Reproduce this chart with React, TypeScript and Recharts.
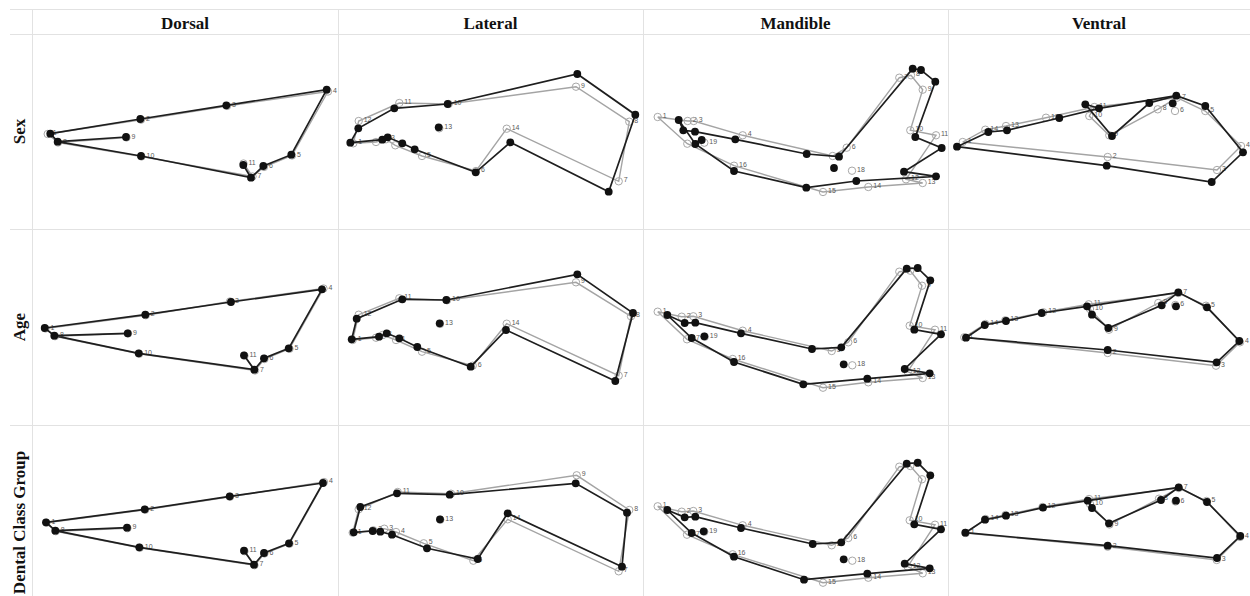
import React from 'react';
import { ScatterChart, Scatter, XAxis, YAxis } from 'recharts';

// [landmark id, x, y] in each panel's own coordinate frame (y grows downward)
type Landmark = [number, number, number];

const columnTitles = ['Dorsal', 'Lateral', 'Mandible', 'Ventral'];
const rowTitles = ['Sex', 'Age', 'Dental Class Group'];

// wireframe links, listed as landmark chains
const dorsalLinks = [[9, 8, 1, 2, 3, 4, 5, 6, 7, 10, 8], [7, 11]];
const lateralLinks = [[1, 2, 3, 4, 5, 6, 14, 7, 8, 9, 10, 11, 12, 1]];
const mandibleLinks = [[1, 2, 3, 4, 5, 6, 7, 8, 9, 10, 11, 12, 13, 14, 15, 16, 17, 1]];
const ventralLinks = [[1, 14, 13, 12, 11, 7, 5, 4, 3, 2, 1], [11, 10, 9, 8, 7]];

// ---- Dorsal ----
const dorsalSexA: Landmark[] = [
  [1, 17.3, 98.7], [2, 107.3, 84], [3, 193.3, 70.3], [4, 293.7, 54.7], [5, 258.3, 119.7], [6, 230.3, 131],
  [7, 218, 142.7], [8, 24.7, 106.7], [9, 93, 102], [10, 108, 121], [11, 210.3, 130],
];
const dorsalSexB: Landmark[] = [
  [1, 14.7, 99], [2, 108, 84.7], [3, 194, 71], [4, 295, 56.5], [5, 259, 120.5], [6, 231, 132],
  [7, 219.5, 141.5], [8, 25, 107.5], [9, 93.5, 102.5], [10, 108.5, 121.5], [11, 210.5, 128.5],
];
const dorsalAgeA: Landmark[] = [
  [1, 11.7, 98], [2, 112.3, 84.7], [3, 198, 72], [4, 289, 59.3], [5, 255.7, 118.3], [6, 231, 128.3],
  [7, 221.3, 139.7], [8, 21.3, 105.7], [9, 94.7, 103.3], [10, 105.7, 123.3], [11, 211, 125.3],
];
const dorsalAgeB: Landmark[] = [
  [1, 12.5, 98.5], [2, 112.8, 85.2], [3, 197, 71.5], [4, 290.5, 58.5], [5, 256.5, 118.8], [6, 231.5, 129],
  [7, 222, 140.5], [8, 22, 106.2], [9, 95, 103.5], [10, 106.2, 123.8], [11, 211.5, 125.8],
];
const dorsalDentalA: Landmark[] = [
  [1, 13, 96.3], [2, 111.7, 83.3], [3, 196.7, 70.3], [4, 290, 57], [5, 256, 117.3], [6, 231, 127],
  [7, 221, 138.7], [8, 22.3, 104.7], [9, 94, 101.7], [10, 106.3, 121.3], [11, 211, 124.7],
];
const dorsalDentalB: Landmark[] = [
  [1, 13.5, 96.8], [2, 112.2, 83.8], [3, 197, 70.8], [4, 291, 56], [5, 256.5, 117.8], [6, 231.5, 127.5],
  [7, 221.5, 139.2], [8, 22.8, 105.2], [9, 94.5, 102.2], [10, 106.8, 121.8], [11, 211.5, 125.2],
];

// ---- Lateral ----
const lateralSexA: Landmark[] = [
  [1, 11.3, 107.7], [2, 43.3, 104.7], [3, 48.7, 102.3], [4, 63.3, 108.3], [5, 75.7, 114.3], [6, 136.7, 137.3],
  [7, 269.7, 156.7], [8, 296.3, 79.7], [9, 238.3, 39], [10, 108.7, 69], [11, 55.3, 73.3], [12, 19.3, 93.3],
  [13, 99.7, 92.3], [14, 171.3, 107.3],
];
const lateralSexB: Landmark[] = [
  [1, 14.3, 108.3], [2, 37, 107], [3, 47, 104.3], [4, 56.3, 110.3], [5, 83, 121], [6, 137, 136],
  [7, 279.7, 146.3], [8, 290.3, 86.7], [9, 237, 51.7], [10, 109.7, 69], [11, 60.3, 68], [12, 19.7, 86],
  [13, 100.3, 93.3], [14, 167.7, 93.7],
];
const lateralAgeA: Landmark[] = [
  [1, 12.7, 109.3], [2, 40, 106.7], [3, 47.7, 103.3], [4, 60.3, 108.3], [5, 78.3, 117], [6, 131.7, 136.7],
  [7, 276.3, 151], [8, 294, 83], [9, 238.3, 44.3], [10, 107.3, 70], [11, 63.3, 69.3], [12, 17.7, 88.7],
  [13, 100.7, 93.3], [14, 167, 100],
];
const lateralAgeB: Landmark[] = [
  [1, 13.7, 110], [2, 37, 107.7], [3, 43.7, 105], [4, 57, 110], [5, 83, 121.7], [6, 133.7, 135.7],
  [7, 279.7, 145.7], [8, 292, 86.3], [9, 237, 52.3], [10, 108, 70.3], [11, 60.3, 68.3], [12, 19.7, 84.7],
  [13, 101, 94], [14, 167.7, 93.7],
];
const lateralDentalA: Landmark[] = [
  [1, 14.7, 106.3], [2, 33.7, 105], [3, 41.3, 105.7], [4, 53, 108.7], [5, 88, 122.3], [6, 138.7, 133],
  [7, 283, 140.7], [8, 288, 86.7], [9, 236.7, 57.3], [10, 110.7, 68.7], [11, 58, 67.3], [12, 21.3, 81],
  [13, 101, 93.3], [14, 168.7, 87.3],
];
const lateralDentalB: Landmark[] = [
  [1, 13.7, 106.7], [2, 34.3, 104.3], [3, 45.3, 102.7], [4, 57, 106], [5, 84.7, 117.3], [6, 134.3, 134.7],
  [7, 279.7, 145.3], [8, 290.3, 84], [9, 237.7, 49.3], [10, 112, 67.7], [11, 58.7, 66], [12, 19.7, 83.3],
  [13, 101.3, 93.8], [14, 168.7, 93.3],
];

// ---- Mandible ----
const mandibleSexA: Landmark[] = [
  [1, 34.7, 85], [2, 39.3, 95.3], [3, 51, 96.7], [4, 91.3, 104.3], [5, 162.7, 119], [6, 195, 121.7],
  [7, 268.7, 33.7], [8, 277, 35], [9, 291.3, 46.7], [10, 271.3, 102], [11, 297.7, 113], [12, 260, 136.7],
  [13, 292, 141.3], [14, 212.3, 146], [15, 162.3, 152.7], [16, 90, 136], [17, 51.3, 109], [18, 190, 133],
  [19, 57.7, 105],
];
const mandibleSexB: Landmark[] = [
  [1, 13.7, 82], [2, 43.7, 86], [3, 49.7, 86], [4, 98.7, 100.3], [5, 188.7, 121], [6, 202.7, 112.7],
  [7, 255.3, 42.7], [8, 267, 40.3], [9, 278.7, 54.7], [10, 266.3, 95.3], [11, 292, 100.3], [12, 262, 144.3],
  [13, 278.7, 148], [14, 224.3, 152], [15, 179, 157], [16, 90, 130.7], [17, 43.3, 108.7], [18, 208, 135.7],
  [19, 60.3, 107.7],
];
const mandibleAgeA: Landmark[] = [
  [1, 23.3, 85], [2, 40.7, 93], [3, 51.3, 92.7], [4, 97, 103.3], [5, 168, 119], [6, 197.3, 117.3],
  [7, 262.7, 38.7], [8, 273.7, 38], [9, 286.3, 50.3], [10, 270.3, 99.7], [11, 297, 104.3], [12, 260.7, 139],
  [13, 285.7, 143.3], [14, 223.3, 148.7], [15, 159.3, 154.3], [16, 90, 132], [17, 47.7, 108], [18, 199.7, 134.3],
  [19, 60.3, 106.3],
];
const mandibleAgeB: Landmark[] = [
  [1, 13.7, 81.7], [2, 37.7, 86.7], [3, 49.3, 86.3], [4, 98.7, 100.7], [5, 187.7, 121], [6, 204.3, 112.3],
  [7, 255.3, 41.7], [8, 266.3, 40.7], [9, 278, 55.7], [10, 265.7, 95.7], [11, 291, 99.7], [12, 263.7, 141.7],
  [13, 278.7, 148], [14, 224.3, 152.3], [15, 179, 157.7], [16, 88.7, 129], [17, 43, 109.3], [18, 208.3, 135.3],
  [19, 60.8, 106.8],
];
const mandibleDentalA: Landmark[] = [
  [1, 23.3, 84], [2, 40.7, 91.3], [3, 51.3, 90.7], [4, 97, 102], [5, 168.7, 118], [6, 197.3, 116.3],
  [7, 262.7, 37.7], [8, 273.7, 36.7], [9, 286.3, 49.3], [10, 270.3, 98.3], [11, 297, 103.3], [12, 260.7, 137.7],
  [13, 285.7, 142.3], [14, 223.3, 147.7], [15, 160, 153.7], [16, 90, 130.7], [17, 47.7, 107], [18, 199.7, 133.3],
  [19, 59.7, 105.3],
];
const mandibleDentalB: Landmark[] = [
  [1, 13.7, 80.3], [2, 37.7, 85.7], [3, 49.3, 85], [4, 98.7, 99.3], [5, 187.7, 119.3], [6, 204.3, 112],
  [7, 255.3, 40.7], [8, 266.3, 40], [9, 278, 53.3], [10, 265.7, 94.3], [11, 291, 98.7], [12, 263.7, 140.7],
  [13, 278.7, 147.3], [14, 224.3, 151.7], [15, 179, 156.7], [16, 88.7, 128.3], [17, 43, 108.7], [18, 208.3, 134.7],
  [19, 60.3, 105.8],
];

// ---- Ventral ----
const ventralSexA: Landmark[] = [
  [1, 8, 111.7], [2, 157.7, 130.7], [3, 262.7, 147], [4, 294, 117.3], [5, 256.3, 71], [6, 223.7, 68.3],
  [7, 227.3, 60.7], [8, 200.3, 68], [9, 163, 101], [10, 136.3, 69.3], [11, 150, 73.3], [12, 110.3, 83],
  [13, 58, 95.3], [14, 39.3, 97],
];
const ventralSexB: Landmark[] = [
  [1, 13.7, 107], [2, 158.7, 122], [3, 268, 135], [4, 292, 111], [5, 256.3, 76], [6, 226, 76],
  [7, 228, 62.7], [8, 208.7, 74.3], [9, 160.3, 100.3], [10, 140.3, 81], [11, 145.3, 72], [12, 97, 82.7],
  [13, 57, 91], [14, 36.3, 94.7],
];
const ventralAgeA: Landmark[] = [
  [1, 17, 107.7], [2, 158.7, 120], [3, 267.7, 132.3], [4, 290.3, 111], [5, 258, 77.3], [6, 227, 76.3],
  [7, 229.3, 62.3], [8, 212.7, 75.3], [9, 159.3, 98], [10, 143, 84.7], [11, 138, 76.3], [12, 92.7, 83],
  [13, 57, 91], [14, 35.7, 95],
];
const ventralAgeB: Landmark[] = [
  [1, 15.3, 107.3], [2, 158.7, 123], [3, 267, 135.7], [4, 291, 112.3], [5, 257, 75.7], [6, 226.3, 75],
  [7, 229.3, 63], [8, 209.3, 73], [9, 160, 99.7], [10, 141, 79], [11, 139.7, 74.3], [12, 94.3, 82.3],
  [13, 56.3, 90.3], [14, 36.3, 94],
];
const ventralDentalA: Landmark[] = [
  [1, 16.3, 106.7], [2, 158.7, 119.7], [3, 268, 132], [4, 291.3, 110], [5, 258, 76], [6, 227, 74.7],
  [7, 229.7, 61.3], [8, 212, 74], [9, 160, 97.3], [10, 143, 82], [11, 138.7, 74.7], [12, 94, 81.7],
  [13, 57, 89.7], [14, 36, 93.7],
];
const ventralDentalB: Landmark[] = [
  [1, 16.8, 107], [2, 158.7, 120.7], [3, 267.7, 134], [4, 291, 111], [5, 257.5, 75], [6, 226.5, 75.5],
  [7, 229.7, 62], [8, 210, 72.7], [9, 160.5, 98.5], [10, 141, 78], [11, 140, 73], [12, 93.5, 81],
  [13, 56.5, 89], [14, 36.5, 93],
];

// rows (grouping factor) x columns (view)
const panelMeansA = [
  [dorsalSexA, lateralSexA, mandibleSexA, ventralSexA],
  [dorsalAgeA, lateralAgeA, mandibleAgeA, ventralAgeA],
  [dorsalDentalA, lateralDentalA, mandibleDentalA, ventralDentalA],
];
const panelMeansB = [
  [dorsalSexB, lateralSexB, mandibleSexB, ventralSexB],
  [dorsalAgeB, lateralAgeB, mandibleAgeB, ventralAgeB],
  [dorsalDentalB, lateralDentalB, mandibleDentalB, ventralDentalB],
];
const viewLinks = [dorsalLinks, lateralLinks, mandibleLinks, ventralLinks];

// table layout
const COL_EDGES = [32, 338, 643, 948, 1250];
const ROW_EDGES = [34, 229, 425, 620];
const TOP = 9;
const GRID = '#e2e2e2';
const SERIF = "'Liberation Serif', 'Times New Roman', Times, serif";

const BLACK = '#111111';
const GRAY_LINE = '#a4a4a4';
const GRAY_RING = '#a8a8a8';

type P = { id: number; x: number; y: number };

const toPoints = (arr: Landmark[]): P[] => arr.map(([id, x, y]) => ({ id, x, y }));

const Blank = () => <g />;

const GrayMark = (props: any) => {
  const { cx, cy } = props;
  const id = props.payload?.id ?? props.id;
  return (
    <g>
      <circle cx={cx} cy={cy} r={3.7} fill="none" stroke={GRAY_RING} strokeWidth={1} />
      <text x={cx + 5} y={cy + 1} fontSize={7} fill="#5a5a5a" fontFamily="'Liberation Sans', Arial, sans-serif">
        {id}
      </text>
    </g>
  );
};

const BlackMark = (props: any) => {
  const { cx, cy } = props;
  return <circle cx={cx} cy={cy} r={3.9} fill={BLACK} />;
};

function Panel({ w, h, a, b, links }: { w: number; h: number; a: Landmark[]; b: Landmark[]; links: number[][] }) {
  const A = toPoints(a);
  const B = toPoints(b);
  const mapA = new Map(A.map((p) => [p.id, p]));
  const mapB = new Map(B.map((p) => [p.id, p]));
  const chain = (m: Map<number, P>, ids: number[]) => ids.map((id) => m.get(id) as P);
  return (
    <ScatterChart width={w} height={h} margin={{ top: 0, right: 0, bottom: 0, left: 0 }}>
      <XAxis type="number" dataKey="x" domain={[0, w]} hide />
      <YAxis type="number" dataKey="y" domain={[0, h]} reversed hide />
      {links.map((ids, i) => (
        <Scatter
          key={'gl' + i}
          data={chain(mapB, ids)}
          fill={GRAY_LINE}
          line={{ stroke: GRAY_LINE, strokeWidth: 1.4 }}
          shape={Blank}
          isAnimationActive={false}
        />
      ))}
      <Scatter data={B} fill={GRAY_RING} shape={GrayMark} isAnimationActive={false} />
      {links.map((ids, i) => (
        <Scatter
          key={'bl' + i}
          data={chain(mapA, ids)}
          fill={BLACK}
          line={{ stroke: '#1e1e1e', strokeWidth: 1.7 }}
          shape={Blank}
          isAnimationActive={false}
        />
      ))}
      <Scatter data={A} fill={BLACK} shape={BlackMark} isAnimationActive={false} />
    </ScatterChart>
  );
}

export default function App() {
  return (
    <div
      style={{
        position: 'absolute',
        left: 0,
        top: 0,
        width: 1250,
        height: 596,
        overflow: 'hidden',
        background: '#fff',
      }}
    >
      <svg width={1250} height={596} style={{ position: 'absolute', left: 0, top: 0 }}>
        <line x1={10} x2={1250} y1={TOP + 0.5} y2={TOP + 0.5} stroke={GRID} />
        {ROW_EDGES.map((y) => (
          <line key={'h' + y} x1={10} x2={1250} y1={y + 0.5} y2={y + 0.5} stroke={GRID} />
        ))}
        {COL_EDGES.slice(0, 4).map((x) => (
          <line key={'v' + x} x1={x + 0.5} x2={x + 0.5} y1={TOP} y2={596} stroke={GRID} />
        ))}
        {columnTitles.map((t, i) => (
          <text
            key={t}
            x={(COL_EDGES[i] + COL_EDGES[i + 1]) / 2}
            y={29}
            textAnchor="middle"
            fontFamily={SERIF}
            fontWeight="bold"
            fontSize={17}
            fill="#111"
          >
            {t}
          </text>
        ))}
        {rowTitles.map((t, r) => {
          const cy = (ROW_EDGES[r] + ROW_EDGES[r + 1]) / 2;
          return (
            <text
              key={t}
              transform={`translate(25, ${cy}) rotate(-90)`}
              textAnchor="middle"
              fontFamily={SERIF}
              fontWeight="bold"
              fontSize={17}
              fill="#111"
            >
              {t}
            </text>
          );
        })}
      </svg>
      {rowTitles.map((_, r) =>
        columnTitles.map((__, c) => {
          const left = COL_EDGES[c] + 1;
          const top = ROW_EDGES[r] + 1;
          const w = COL_EDGES[c + 1] - COL_EDGES[c] - 1;
          const h = ROW_EDGES[r + 1] - ROW_EDGES[r] - 1;
          return (
            <div key={r + '-' + c} style={{ position: 'absolute', left, top, width: w, height: h }}>
              <Panel w={w} h={h} a={panelMeansA[r][c]} b={panelMeansB[r][c]} links={viewLinks[c]} />
            </div>
          );
        })
      )}
    </div>
  );
}
